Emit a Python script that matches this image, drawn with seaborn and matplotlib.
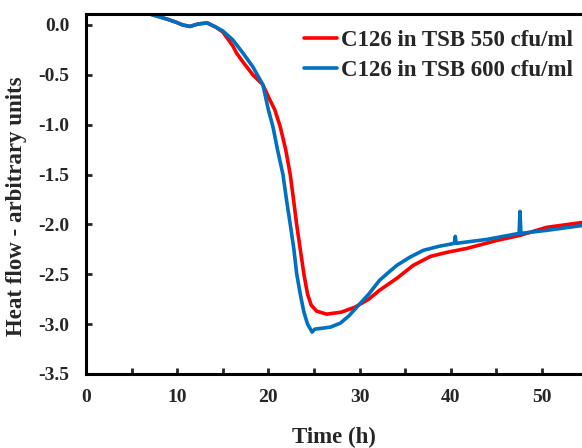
import pandas as pd
import seaborn as sns
import matplotlib
import matplotlib.pyplot as plt
from matplotlib.ticker import MultipleLocator, FormatStrFormatter

# values (time in h, heat flow in arbitrary units)
red_time = [6.0, 7.0, 8.1, 9.0, 9.8, 10.6, 11.4, 12.3, 13.3, 14.2, 15.0, 16.1, 16.5,
            17.2, 18.3, 19.4, 20.0, 20.7, 21.3, 21.9, 22.4, 22.8, 23.1, 23.5, 23.9,
            24.3, 24.7, 25.3, 26.4, 28.0, 29.5, 31.0, 32.2, 34.1, 35.9, 37.8, 39.6,
            41.8, 45.1, 47.6, 50.5, 54.5]
red_flow = [0.15, 0.11, 0.08, 0.055, 0.03, 0.0, -0.015, 0.01, 0.02, -0.02, -0.07,
            -0.21, -0.28, -0.37, -0.50, -0.60, -0.72, -0.85, -1.02, -1.25, -1.50,
            -1.78, -2.00, -2.25, -2.50, -2.70, -2.81, -2.87, -2.90, -2.88, -2.83,
            -2.75, -2.66, -2.54, -2.41, -2.32, -2.28, -2.24, -2.16, -2.11, -2.03, -1.98]

blue_time = [6.0, 7.0, 8.1, 9.0, 9.8, 10.6, 11.4, 12.3, 13.3, 14.2, 15.0, 16.1, 17.2,
             18.3, 19.4, 20.0, 20.5, 21.0, 21.6, 22.0, 22.4, 22.8, 23.1, 23.5, 23.9,
             24.3, 24.8, 25.1, 26.0, 26.8, 27.9, 28.8, 29.7, 31.0, 32.2, 33.2, 34.1,
             35.5, 37.0, 38.7, 40.4, 40.5, 40.6, 44.0, 47.5, 47.6, 47.7, 50.5, 54.5]
blue_flow = [0.15, 0.11, 0.08, 0.055, 0.03, 0.0, -0.015, 0.01, 0.02, -0.02, -0.06,
             -0.15, -0.28, -0.42, -0.60, -0.85, -1.02, -1.25, -1.50, -1.76, -2.00,
             -2.25, -2.49, -2.70, -2.88, -3.00, -3.08, -3.05, -3.04, -3.03, -2.99,
             -2.92, -2.83, -2.70, -2.56, -2.48, -2.41, -2.33, -2.26, -2.22, -2.19,
             -2.12, -2.19, -2.15, -2.09, -1.87, -2.09, -2.06, -2.01]

red_label = 'C126 in TSB 550 cfu/ml'
blue_label = 'C126 in TSB 600 cfu/ml'

sns.set_style('white')
matplotlib.rcParams['font.family'] = ['Liberation Serif', 'DejaVu Serif']
matplotlib.rcParams['font.weight'] = 'bold'

fig = plt.figure(figsize=(5.82, 4.48), dpi=100)
ax = fig.add_axes([0.1478, 0.1652, 0.8522, 0.8036])

sns.lineplot(x=red_time, y=red_flow, color='#ff0000', lw=2.6, label=red_label,
             estimator=None, sort=False, ax=ax)
sns.lineplot(x=blue_time, y=blue_flow, color='#0070c0', lw=2.6, label=blue_label,
             estimator=None, sort=False, ax=ax)

ax.set_xlim(0, 54.4)
ax.set_ylim(-3.5, 0.11)
ax.xaxis.set_major_locator(MultipleLocator(10))
ax.xaxis.set_minor_locator(MultipleLocator(5))
ax.yaxis.set_major_locator(MultipleLocator(0.5))
ax.yaxis.set_major_formatter(FormatStrFormatter('%.1f'))

for side in ['left', 'bottom', 'top']:
    ax.spines[side].set_linewidth(2.2)
    ax.spines[side].set_color('black')
ax.spines['right'].set_visible(False)

ax.tick_params(axis='x', which='both', direction='in', length=4, width=2,
               bottom=True, top=False, labelsize=14, pad=11)
ax.tick_params(axis='y', which='major', direction='in', length=4, width=2,
               left=True, labelsize=14, pad=12)

ax.set_xlabel('Time (h)', fontsize=16.5, fontweight='bold', labelpad=15)
ax.set_ylabel('Heat flow - arbitrary units', fontsize=16.5, fontweight='bold')
ax.yaxis.set_label_coords(-0.118, 0.467)

plt.legend(loc='upper right', bbox_to_anchor=(1.0, 0.982), frameon=False,
           handlelength=1.45, handletextpad=0.15, borderaxespad=0, borderpad=0.4,
           labelspacing=0.4, prop={'weight': 'bold', 'size': 16.5})

fig.savefig('out.png', dpi=100)
